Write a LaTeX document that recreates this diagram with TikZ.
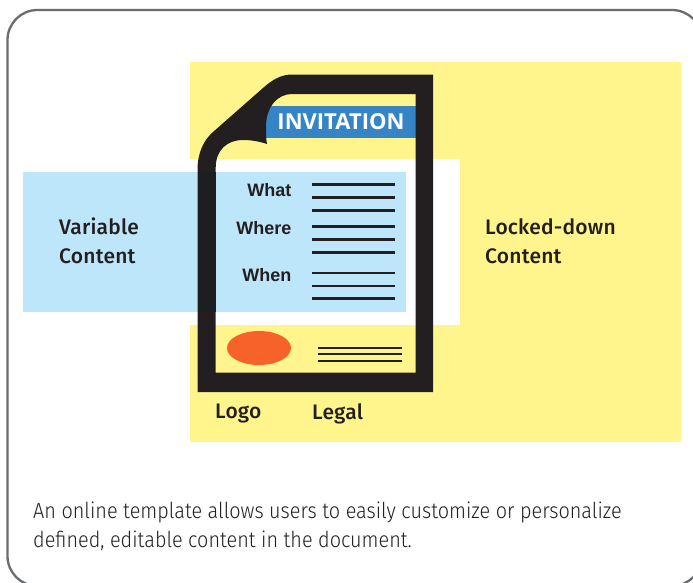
\documentclass[tikz,border=0pt]{standalone}
\usepackage{fontspec}
\setmainfont{Fira Sans Medium}
\newfontfamily\arialf{Liberation Sans}
\newfontfamily\invf{Open Sans}
\newfontfamily\bodyf[FakeStretch=0.902]{Fira Sans Light}
\definecolor{yel}{HTML}{FFF58C}
\definecolor{sky}{HTML}{BEE6FA}
\definecolor{barblue}{HTML}{3585C6}
\definecolor{ink}{HTML}{231F20}
\definecolor{inkblue}{HTML}{1C1E22}
\definecolor{orangeov}{HTML}{F6622A}
\definecolor{framec}{HTML}{6A6D70}
\tikzset{
  label/.style={font=\fontsize{21}{29}\selectfont\addfontfeature{LetterSpace=1}, text=ink, align=left, inner sep=0pt, anchor=west},
  field/.style={font=\arialf\bfseries\fontsize{18}{20}\selectfont, text=ink, inner sep=0pt, anchor=east},
  rule/.style={line width=2.6pt, ink},
  thinrule/.style={line width=2.2pt, ink}
}
\begin{document}
\begin{tikzpicture}[x=1pt,y=-1pt]
\useasboundingbox (0,0) rectangle (693,582);
\fill[white] (0,0) rectangle (693,582);
\begin{scope}
\clip (0,0) rectangle (693,582);
\draw[framec, line width=2.3pt] (7.5,40) arc[start angle=180, end angle=270, radius=30] -- (672,10) arc[start angle=270, end angle=360, radius=30] -- (702,556) arc[start angle=0, end angle=90, radius=30] -- (37.5,586) arc[start angle=90, end angle=180, radius=30] -- cycle;
\end{scope}
\fill[yel] (189.5,62) rectangle (681,442);
\fill[white] (189.5,159) rectangle (460,325);
\fill[sky] (23,172) rectangle (406,312);
\fill[barblue] (262,106) rectangle (416,138);
\fill[orangeov] (259,348) ellipse [x radius=32, y radius=17];
\fill[ink, even odd rule]
  (197.5,392) -- (197.5,170) .. controls (197.5,152) and (204,140) .. (213,132)
  -- (263,88) .. controls (273,79) and (282,74.5) .. (292,74.5)
  -- (433,74.5) -- (433,392) -- cycle
  (215.7,372.7) -- (415.7,372.7) -- (415.7,94) -- (292,94)
  .. controls (278,94) and (266,106) .. (266,127)
  .. controls (266,134) and (266,139) .. (267,144)
  .. controls (258,141) and (250,140) .. (243,140)
  .. controls (227,140) and (215.7,150) .. (215.7,168) -- cycle;
\fill[inkblue] (197.5,172) rectangle (215.7,312);
\foreach \yy in {184.3,197.3,210.3,226.7,239.7,252.3,273,286,298.7}
  \draw[rule] (312,\yy) -- (395,\yy);
\foreach \yy in {348,354.3,360.7}
  \draw[thinrule] (318.3,\yy) -- (402,\yy);
\node[font=\invf\bfseries\fontsize{22}{24}\selectfont, text=white, inner sep=0pt] (inv) at (341,122) {INVITATION};
\node[field] (what) at (291.5,190) {What};
\node[field] (where) at (291.5,228) {Where};
\node[field] (when) at (291.5,275) {When};
\node[label] (var) at (59,241) {Variable\\Content};
\node[label] (lock) at (485,241) {Locked-down\\Content};
\node[label] (logo) at (215,414) {Logo};
\node[label] (legal) at (312,414) {Legal};
\node[font=\bodyf\fontsize{22}{29}\selectfont, text=ink, align=left, inner sep=0pt, anchor=west] (cap) at (33,526) {An online template allows users to easily customize or personalize\\defined, editable content in the document.};
\end{tikzpicture}
\end{document}
